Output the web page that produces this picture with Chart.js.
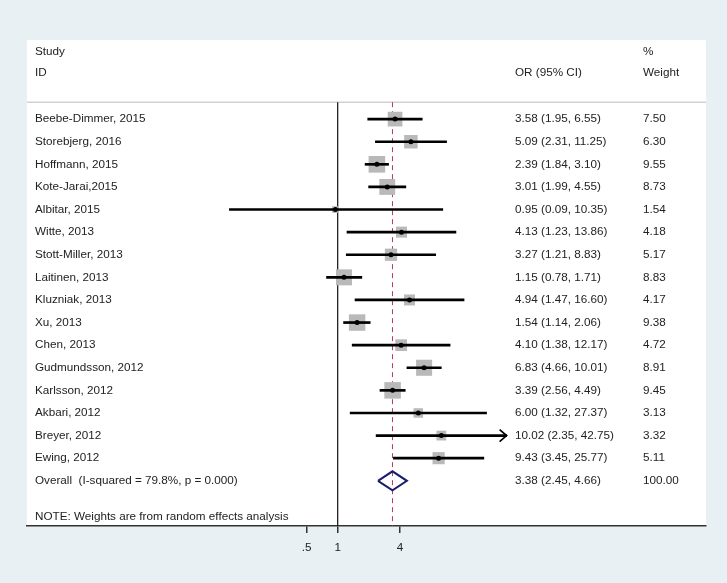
<!DOCTYPE html>
<html>
<head>
<meta charset="utf-8">
<script src="https://cdn.jsdelivr.net/npm/chart.js@4.4.0/dist/chart.umd.min.js"></script>
<style>
  html, body { margin: 0; padding: 0; background: #e8f0f3; }
  canvas { display: block; }
</style>
</head>
<body>
<canvas id="forest" width="727" height="583"></canvas>
<script>
// study rows, top to bottom
const studies = [
  'Beebe-Dimmer, 2015', 'Storebjerg, 2016', 'Hoffmann, 2015', 'Kote-Jarai,2015',
  'Albitar, 2015', 'Witte, 2013', 'Stott-Miller, 2013', 'Laitinen, 2013',
  'Kluzniak, 2013', 'Xu, 2013', 'Chen, 2013', 'Gudmundsson, 2012',
  'Karlsson, 2012', 'Akbari, 2012', 'Breyer, 2012', 'Ewing, 2012'
];
const oddsRatios = [3.58, 5.09, 2.39, 3.01, 0.95, 4.13, 3.27, 1.15, 4.94, 1.54, 4.10, 6.83, 3.39, 6.00, 10.02, 9.43];
const ciLower = [1.95, 2.31, 1.84, 1.99, 0.09, 1.23, 1.21, 0.78, 1.47, 1.14, 1.38, 4.66, 2.56, 1.32, 2.35, 3.45];
const ciUpper = [6.55, 11.25, 3.10, 4.55, 10.35, 13.86, 8.83, 1.71, 16.60, 2.06, 12.17, 10.01, 4.49, 27.37, 42.75, 25.77];
const weights = [7.50, 6.30, 9.55, 8.73, 1.54, 4.18, 5.17, 8.83, 4.17, 9.38, 4.72, 8.91, 9.45, 3.13, 3.32, 5.11];
const arrowRows = [14]; // CI drawn with an arrow head

const overallLabel = 'Overall  (I-squared = 79.8%, p = 0.000)';
const overallOR = 3.38;
const overallLower = 2.45;
const overallUpper = 4.66;
const overallWeight = '100.00';
const noteText = 'NOTE: Weights are from random effects analysis';

const xTicks = [0.5, 1, 4];
const xTickLabels = ['.5', '1', '4'];

const fmt = v => v.toFixed(2);
const overallRow = studies.length;
const headerLineRow = -0.75;
const bottomRow = 18;

const FAMILY = '"Liberation Sans", Arial, sans-serif';
const FONT = '11.7px ' + FAMILY;
const TEXT = '#222222';

const panelPlugin = {
  id: 'panel',
  beforeDraw(chart) {
    const { ctx, chartArea } = chart;
    const y = chart.scales.y;
    ctx.save();
    ctx.fillStyle = '#ffffff';
    ctx.fillRect(chartArea.left, chartArea.top, chartArea.right - chartArea.left, chartArea.bottom - chartArea.top);
    ctx.strokeStyle = '#d2d2d2';
    ctx.lineWidth = 1.5;
    const hy = y.getPixelForValue(headerLineRow);
    ctx.beginPath();
    ctx.moveTo(chartArea.left, hy);
    ctx.lineTo(chartArea.right, hy);
    ctx.stroke();
    ctx.restore();
  }
};

const textPlugin = {
  id: 'columns',
  afterDraw(chart) {
    const { ctx } = chart;
    const x = chart.scales.x;
    const y = chart.scales.y;
    const colStudy = 35, colOR = 515, colWeight = 643;
    ctx.save();
    ctx.font = FONT;
    ctx.fillStyle = TEXT;
    ctx.textBaseline = 'middle';
    ctx.textAlign = 'left';

    // header
    ctx.fillText('Study', colStudy, y.getPixelForValue(-3));
    ctx.fillText('ID', colStudy, y.getPixelForValue(-2.05));
    ctx.fillText('OR (95% CI)', colOR, y.getPixelForValue(-2.05));
    ctx.fillText('%', colWeight, y.getPixelForValue(-3));
    ctx.fillText('Weight', colWeight, y.getPixelForValue(-2.05));

    studies.forEach((s, i) => {
      const py = y.getPixelForValue(i);
      ctx.fillText(s, colStudy, py);
      ctx.fillText(`${fmt(oddsRatios[i])} (${fmt(ciLower[i])}, ${fmt(ciUpper[i])})`, colOR, py);
      ctx.fillText(fmt(weights[i]), colWeight, py);
    });

    const oy = y.getPixelForValue(overallRow);
    ctx.fillText(overallLabel, colStudy, oy);
    ctx.fillText(`${fmt(overallOR)} (${fmt(overallLower)}, ${fmt(overallUpper)})`, colOR, oy);
    ctx.fillText(overallWeight, colWeight, oy);
    ctx.fillText(noteText, colStudy, y.getPixelForValue(17.6));

    // arrow heads on clipped CIs
    ctx.strokeStyle = '#000';
    ctx.lineWidth = 1.7;
    arrowRows.forEach(i => {
      const px = x.getPixelForValue(ciUpper[i]);
      const py = y.getPixelForValue(i);
      ctx.beginPath();
      ctx.moveTo(px - 7, py - 6);
      ctx.lineTo(px, py);
      ctx.lineTo(px - 7, py + 6);
      ctx.stroke();
    });
    ctx.restore();
  }
};

const diamondH = 0.42;

new Chart(document.getElementById('forest'), {
  type: 'scatter',
  data: {
    datasets: [
      {
        label: 'null',
        showLine: true,
        data: [{ x: 1, y: headerLineRow }, { x: 1, y: bottomRow }],
        borderColor: '#111',
        borderWidth: 1.2,
        pointRadius: 0,
        order: 6
      },
      {
        label: 'pooled',
        showLine: true,
        data: [{ x: overallOR, y: headerLineRow }, { x: overallOR, y: bottomRow }],
        borderColor: '#b23c55',
        borderWidth: 1,
        borderDash: [5, 4],
        pointRadius: 0,
        order: 5
      },
      {
        label: 'weight',
        data: oddsRatios.map((v, i) => ({ x: v, y: i })),
        pointStyle: 'rect',
        pointRadius: ctx => 3.8 * Math.sqrt(weights[ctx.dataIndex] || 0),
        backgroundColor: '#b9b9b9',
        borderWidth: 0,
        order: 4
      },
      {
        type: 'bar',
        label: 'ci',
        indexAxis: 'y',
        data: studies.map((s, i) => ({ x: [ciLower[i], ciUpper[i]], y: i })),
        backgroundColor: '#000',
        barThickness: 2,
        borderWidth: 0,
        borderSkipped: false,
        order: 3
      },
      {
        label: 'estimate',
        data: oddsRatios.map((v, i) => ({ x: v, y: i })),
        pointRadius: 2.5,
        backgroundColor: '#000',
        borderWidth: 0,
        order: 2
      },
      {
        label: 'overall',
        showLine: true,
        data: [
          { x: overallLower, y: overallRow },
          { x: overallOR, y: overallRow - diamondH },
          { x: overallUpper, y: overallRow },
          { x: overallOR, y: overallRow + diamondH },
          { x: overallLower, y: overallRow }
        ],
        borderColor: '#1c1c6e',
        borderWidth: 2,
        pointRadius: 0,
        tension: 0,
        order: 1
      }
    ]
  },
  options: {
    responsive: false,
    animation: false,
    layout: { padding: { left: 27, right: 21, top: 40, bottom: 0 } },
    plugins: { legend: { display: false }, tooltip: { enabled: false } },
    scales: {
      x: {
        type: 'logarithmic',
        min: 0.001,
        max: 3600,
        offset: false,
        afterBuildTicks: s => { s.ticks = xTicks.map(v => ({ value: v })); },
        afterFit: s => { s.height = 57; },
        ticks: {
          autoSkip: false,
          maxRotation: 0,
          padding: 8,
          color: TEXT,
          font: { family: FAMILY, size: 11.7 },
          callback: v => xTickLabels[xTicks.indexOf(v)]
        },
        grid: { drawOnChartArea: false, drawTicks: true, tickLength: 7, color: '#333', lineWidth: 1.5 },
        border: { display: true, color: '#333', width: 1.5 }
      },
      y: {
        type: 'linear',
        reverse: true,
        offset: false,
        min: -3.5,
        max: bottomRow,
        display: false
      }
    }
  },
  plugins: [panelPlugin, textPlugin]
});
</script>
</body>
</html>
